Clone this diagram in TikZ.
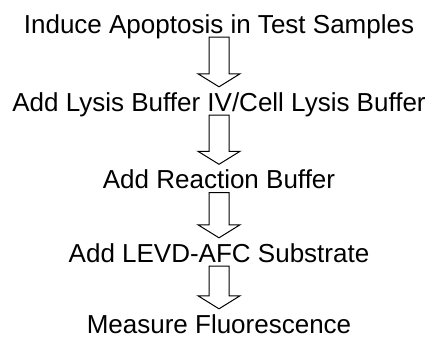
\documentclass[tikz,border=0pt]{standalone}
\usepackage{fontspec}
\setmainfont{Liberation Sans}
\usetikzlibrary{calc}

\begin{document}
\begin{tikzpicture}[x=1bp, y=1bp,
		stage/.style={inner sep=0pt, anchor=base, text height=19bp, text depth=5bp, font=\fontsize{26bp}{30bp}\selectfont},
		fatarrow/.style={draw, line width=1bp, line join=miter,
			to path={let \p1=(\tikztostart), \p2=(\tikztotarget) in
				(\x1-10bp,\y1+1bp) -- (\x1-10bp,\y2+18bp) -- (\x1-21bp,\y2+18bp) -- (\x1,\y2+5bp)
				-- (\x1+21bp,\y2+18bp) -- (\x1+10bp,\y2+18bp) -- (\x1+10bp,\y1+1bp) -- cycle}}]
	\useasboundingbox (0,0) rectangle (438,347);
	
	\node[stage] (induce) at (219, 314) {Induce Apoptosis in Test Samples};
	\node[stage] (lysis) at (219, 236) {Add Lysis Buffer IV/Cell Lysis Buffer};
	\node[stage] (reaction) at (219, 158.5) {Add Reaction Buffer};
	\node[stage] (substrate) at (219, 85) {Add LEVD-AFC Substrate};
	\node[stage] (measure) at (219, 14) {Measure Fluorescence};
	
	\foreach \a/\b in {induce/lysis, lysis/reaction, reaction/substrate, substrate/measure}
		\draw[fatarrow] (\a.south) to (\b.north);
\end{tikzpicture}
\end{document}
